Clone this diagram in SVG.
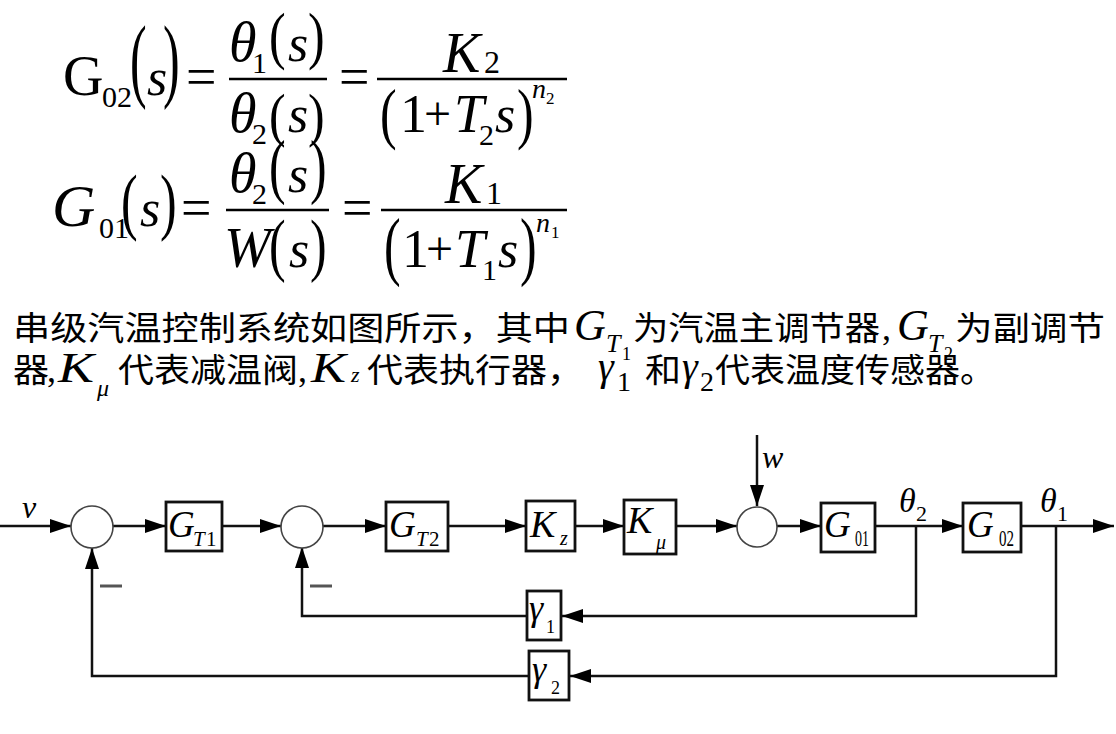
<svg xmlns="http://www.w3.org/2000/svg" width="1116" height="734" viewBox="0 0 1116 734">
<style>
.m{font-family:"Liberation Serif",serif;font-style:italic;fill:#000}
.u{font-family:"Liberation Serif",serif;fill:#000}
.p{font-family:"Liberation Serif",serif;font-size:50px;fill:#000}
.cj{font-family:"Noto Sans CJK SC",sans-serif;font-size:33px;fill:#000}
.bar{stroke:#000;stroke-width:2.5}
.box{fill:#fff;stroke:#111;stroke-width:2.8}
.sum{fill:#fff;stroke:#444;stroke-width:1.6}
.ln{fill:none;stroke:#111;stroke-width:2.5}
.arr{fill:none;stroke:#111;stroke-width:2.5;marker-end:url(#ah)}
.minus{stroke:#555;stroke-width:3}
</style>
<defs>
<marker id="ah" markerWidth="21" markerHeight="14" refX="21" refY="7" orient="auto" markerUnits="userSpaceOnUse">
<path d="M0,0 L21,7 L0,14 Z" fill="#000"/>
</marker>
</defs>
<rect width="1116" height="734" fill="#fff"/>

<g id="eq1">
<text class="u" x="63" y="95" font-size="56">G</text>
<text class="u" x="102" y="107" font-size="30">02</text>
<text class="p" transform="translate(130,90.3) scale(1,1.874)">(</text>
<text class="m" x="147" y="95" font-size="52">s</text>
<text class="p" transform="translate(163,90.3) scale(1,1.874)">)</text>
<text class="u" x="186" y="95" font-size="54">=</text>
<line class="bar" x1="229" y1="79" x2="327" y2="79"/>
<text class="m" x="229" y="61" font-size="56">θ</text>
<text class="u" x="252" y="73" font-size="30">1</text>
<text class="p" transform="translate(269,56.8) scale(1,1.265)">(</text>
<text class="m" x="288" y="61" font-size="52">s</text>
<text class="p" transform="translate(308,56.8) scale(1,1.265)">)</text>
<text class="m" x="229" y="132" font-size="56">θ</text>
<text class="u" x="252" y="144" font-size="30">2</text>
<text class="p" transform="translate(269,135.4) scale(1,1.195)">(</text>
<text class="m" x="288" y="132" font-size="52">s</text>
<text class="p" transform="translate(308,135.4) scale(1,1.195)">)</text>
<text class="u" x="339" y="95" font-size="54">=</text>
<line class="bar" x1="377" y1="79" x2="567" y2="79"/>
<text class="m" x="443" y="72" font-size="56">K</text>
<text class="u" x="484" y="73" font-size="32">2</text>
<text class="p" transform="translate(380,136) scale(1,1.335)">(</text>
<text class="u" x="400" y="132" font-size="54">1</text>
<text class="u" x="424" y="130" font-size="48">+</text>
<text class="m" x="454" y="132" font-size="54">T</text>
<text class="u" x="479" y="145" font-size="30">2</text>
<text class="m" x="495" y="132" font-size="52">s</text>
<text class="p" transform="translate(517,136) scale(1,1.335)">)</text>
<text class="m" x="532" y="98" font-size="28">n</text>
<text class="u" x="546" y="104" font-size="17">2</text>
</g>

<g id="eq2">
<text class="m" x="52" y="226" font-size="60">G</text>
<text class="u" x="99" y="238" font-size="30">01</text>
<text class="p" transform="translate(121,226) scale(1,1.475)">(</text>
<text class="m" x="140" y="226" font-size="52">s</text>
<text class="p" transform="translate(160,226) scale(1,1.475)">)</text>
<text class="u" x="181" y="226" font-size="54">=</text>
<line class="bar" x1="226" y1="210" x2="329" y2="210"/>
<text class="m" x="229" y="192" font-size="56">θ</text>
<text class="u" x="252" y="204" font-size="30">2</text>
<text class="p" transform="translate(269,190) scale(1,1.452)">(</text>
<text class="m" x="288" y="192" font-size="52">s</text>
<text class="p" transform="translate(310,190) scale(1,1.452)">)</text>
<text class="m" x="224" y="267" font-size="56">W</text>
<text class="p" transform="translate(269,268) scale(1,1.38)">(</text>
<text class="m" x="289" y="267" font-size="52">s</text>
<text class="p" transform="translate(310,268) scale(1,1.38)">)</text>
<text class="u" x="342" y="226" font-size="54">=</text>
<line class="bar" x1="381" y1="210" x2="567" y2="210"/>
<text class="m" x="445" y="203" font-size="56">K</text>
<text class="u" x="486" y="204" font-size="32">1</text>
<text class="p" transform="translate(384,270.5) scale(1,1.52)">(</text>
<text class="u" x="402" y="267" font-size="54">1</text>
<text class="u" x="426" y="265" font-size="48">+</text>
<text class="m" x="455" y="267" font-size="54">T</text>
<text class="u" x="482" y="280" font-size="30">1</text>
<text class="m" x="498" y="267" font-size="52">s</text>
<text class="p" transform="translate(520,270.5) scale(1,1.52)">)</text>
<text class="m" x="536" y="232" font-size="28">n</text>
<text class="u" x="551" y="238" font-size="17">1</text>
</g>

<g id="desc">
<text class="cj" x="13" y="340" textLength="557" lengthAdjust="spacingAndGlyphs">串级汽温控制系统如图所示，其中</text>
<text class="m" x="574" y="340" font-size="44">G</text>
<text class="m" x="606" y="352" font-size="26">T</text>
<text class="u" x="622" y="360" font-size="18">1</text>
<text class="cj" x="633" y="340" textLength="247" lengthAdjust="spacingAndGlyphs">为汽温主调节器</text>
<text class="u" x="882" y="340" font-size="36">,</text>
<text class="m" x="897" y="340" font-size="44">G</text>
<text class="m" x="928" y="352" font-size="26">T</text>
<text class="u" x="944" y="360" font-size="18">2</text>
<text class="cj" x="955" y="340" textLength="150" lengthAdjust="spacingAndGlyphs">为副调节</text>
<text class="cj" x="13" y="382" textLength="36" lengthAdjust="spacingAndGlyphs">器</text>
<text class="u" x="47" y="382" font-size="36">,</text>
<text class="m" x="58" y="382" font-size="42" textLength="36" lengthAdjust="spacingAndGlyphs">K</text>
<text class="m" x="97" y="396" font-size="24">μ</text>
<text class="cj" x="118" y="382" textLength="180" lengthAdjust="spacingAndGlyphs">代表减温阀</text>
<text class="u" x="298" y="382" font-size="36">,</text>
<text class="m" x="311" y="382" font-size="42" textLength="35" lengthAdjust="spacingAndGlyphs">K</text>
<text class="m" x="351" y="382" font-size="22">z</text>
<text class="cj" x="367" y="382" textLength="216" lengthAdjust="spacingAndGlyphs">代表执行器，</text>
<text class="m" x="598" y="380" font-size="40">γ</text>
<text class="u" x="617" y="391" font-size="28">1</text>
<text class="cj" x="645" y="382" textLength="36" lengthAdjust="spacingAndGlyphs">和</text>
<text class="m" x="682" y="380" font-size="40">γ</text>
<text class="u" x="700" y="391" font-size="28">2</text>
<text class="cj" x="715" y="382" textLength="280" lengthAdjust="spacingAndGlyphs">代表温度传感器。</text>
</g>

<g id="connectors">
<line class="arr" x1="0" y1="526" x2="71" y2="526"/>
<line class="arr" x1="113" y1="526" x2="166" y2="526"/>
<line class="arr" x1="222" y1="526" x2="281" y2="526"/>
<line class="arr" x1="323" y1="526" x2="386" y2="526"/>
<line class="arr" x1="448" y1="526" x2="526" y2="526"/>
<line class="arr" x1="575" y1="526" x2="624" y2="526"/>
<line class="arr" x1="676" y1="526" x2="737" y2="526"/>
<line class="arr" x1="757" y1="435" x2="757" y2="506"/>
<line class="arr" x1="777" y1="526" x2="821" y2="526"/>
<line class="arr" x1="875" y1="526" x2="963" y2="526"/>
<line class="arr" x1="1021" y1="526" x2="1114" y2="526"/>
<polyline class="arr" points="916,526 916,616 562,616"/>
<polyline class="arr" points="527,616 302,616 302,547"/>
<polyline class="arr" points="1056,526 1056,676 570,676"/>
<polyline class="arr" points="529,676 92,676 92,548"/>
<line class="minus" x1="100" y1="586" x2="122" y2="586"/>
<line class="minus" x1="310" y1="586" x2="332" y2="586"/>
<text class="m" x="22" y="518" font-size="32">v</text>
<text class="m" x="762" y="468" font-size="32">w</text>
<text class="m" x="899" y="512" font-size="34">θ</text>
<text class="u" x="916" y="521" font-size="22">2</text>
<text class="m" x="1040" y="512" font-size="34">θ</text>
<text class="u" x="1057" y="521" font-size="22">1</text>
</g>

<g id="sum1"><circle class="sum" cx="92" cy="527" r="21"/></g>
<g id="sum2"><circle class="sum" cx="302" cy="527" r="21"/></g>
<g id="sum3"><circle class="sum" cx="757" cy="527" r="20"/></g>

<g id="GT1"><rect class="box" x="166" y="502" width="56" height="49"/>
<text class="m" x="168" y="537" font-size="37">G</text>
<text class="m" x="193" y="546" font-size="21">T</text>
<text class="u" x="206" y="546" font-size="21">1</text></g>
<g id="GT2"><rect class="box" x="386" y="502" width="62" height="49"/>
<text class="m" x="389" y="537" font-size="37">G</text>
<text class="m" x="416" y="546" font-size="21">T</text>
<text class="u" x="429" y="546" font-size="21">2</text></g>
<g id="Kz"><rect class="box" x="526" y="501" width="49" height="50"/>
<text class="m" x="530" y="537" font-size="38">K</text>
<text class="m" x="560" y="545" font-size="20">z</text></g>
<g id="Kmu"><rect class="box" x="624" y="500" width="52" height="54"/>
<text class="m" x="627" y="533" font-size="38">K</text>
<text class="m" x="656" y="549" font-size="20">μ</text></g>
<g id="G01"><rect class="box" x="821" y="503" width="54" height="49"/>
<text class="m" x="824" y="537" font-size="37">G</text>
<text class="u" x="855" y="546" font-size="24" textLength="14" lengthAdjust="spacingAndGlyphs">01</text></g>
<g id="G02"><rect class="box" x="963" y="503" width="58" height="49"/>
<text class="m" x="967" y="537" font-size="37">G</text>
<text class="u" x="999" y="546" font-size="24" textLength="15" lengthAdjust="spacingAndGlyphs">02</text></g>
<g id="gamma1"><rect class="box" x="527" y="591" width="34" height="49"/>
<text class="m" x="529" y="620" font-size="36">γ</text>
<text class="u" x="546" y="633" font-size="18">1</text></g>
<g id="gamma2"><rect class="box" x="529" y="651" width="40" height="49"/>
<text class="m" x="532" y="681" font-size="36">γ</text>
<text class="u" x="551" y="694" font-size="18">2</text></g>
</svg>
